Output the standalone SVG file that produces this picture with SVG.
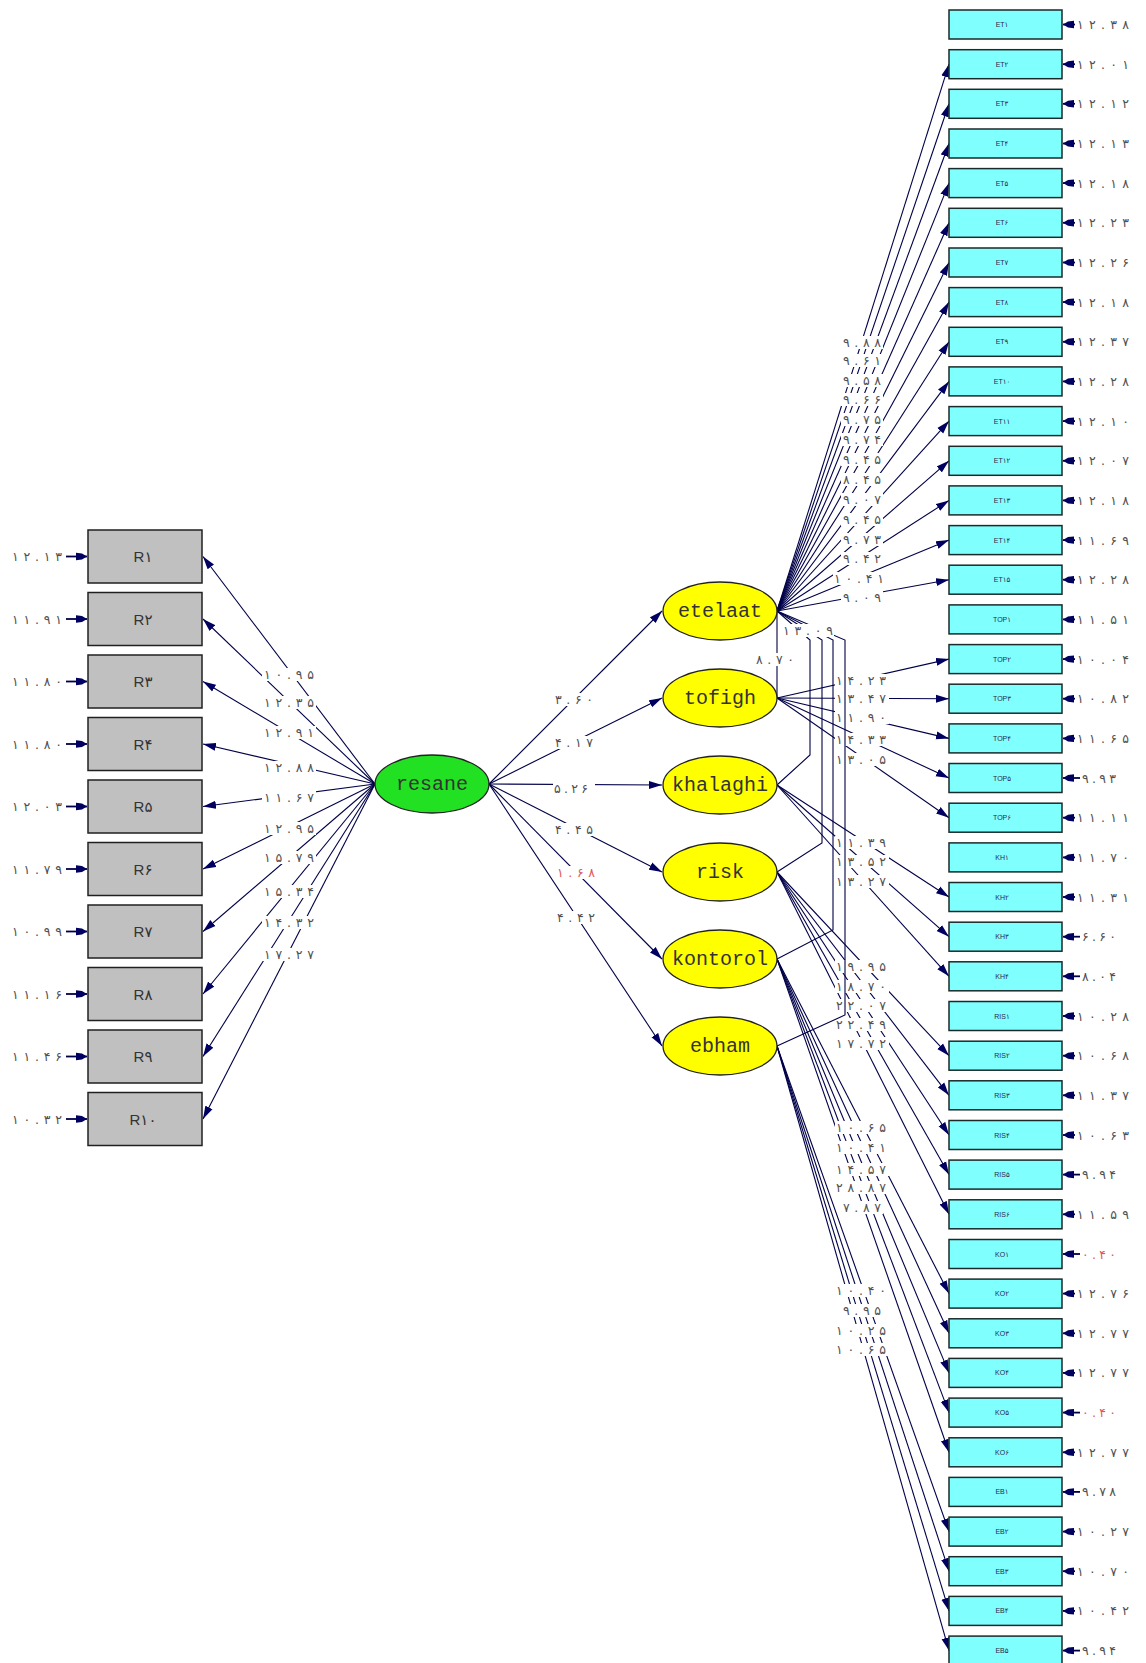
<svg xmlns="http://www.w3.org/2000/svg" width="1146" height="1663" viewBox="0 0 1146 1663">
<defs>
<marker id="ah" markerWidth="14" markerHeight="9" refX="13" refY="4.5" orient="auto" markerUnits="userSpaceOnUse"><path d="M0,0.5 L13,4.5 L0,8.5 z" fill="#000060"/></marker>
<marker id="eh" markerWidth="12" markerHeight="9" refX="11" refY="4.5" orient="auto" markerUnits="userSpaceOnUse"><path d="M0,0.8 L6,1.5 L11,4.5 L6,7.5 L0,8.2 z" fill="#000060"/></marker>
<style>
.con{stroke:#000048;stroke-width:1.1;fill:none}
.arr{marker-end:url(#ah)}
.err{marker-end:url(#eh);stroke-width:1.8}
.num{font-family:"DejaVu Sans",sans-serif;font-size:12.5px;fill:#505050}
.c{text-anchor:middle}
.e{text-anchor:end}
.red{fill:#e05858}
.bg{fill:#ffffff}
.rbox{fill:#c0c0c0;stroke:#202020;stroke-width:1.5}
.cbox{fill:#80ffff;stroke:#1a2a2a;stroke-width:1.5}
.blab{font-family:"Liberation Sans","DejaVu Sans",sans-serif;font-size:7px;fill:#2a2a50;text-anchor:middle}
.rlab{font-family:"Liberation Sans","DejaVu Sans",sans-serif;font-size:15px;fill:#333;text-anchor:middle}
.lat{fill:#ffff00;stroke:#222;stroke-width:1.3}
.res{fill:#22e022;stroke:#222;stroke-width:1.3}
.latt{font-family:"Liberation Mono",monospace;font-size:20px;fill:#333;text-anchor:middle}
</style>
</defs>
<rect width="1146" height="1663" fill="#ffffff"/>

<g id="connectors" class="con">
<path class="arr" d="M375 784L203 556.5"/>
<path class="arr" d="M375 784L203 619"/>
<path class="arr" d="M375 784L203 681.5"/>
<path class="arr" d="M375 784L203 744"/>
<path class="arr" d="M375 784L203 806.5"/>
<path class="arr" d="M375 784L203 869"/>
<path class="arr" d="M375 784L203 931.5"/>
<path class="arr" d="M375 784L203 994"/>
<path class="arr" d="M375 784L203 1056.5"/>
<path class="arr" d="M375 784L203 1119"/>
<path class="arr" d="M489 784L662 611"/>
<path class="arr" d="M489 784L662 698"/>
<path class="arr" d="M489 784L662 785"/>
<path class="arr" d="M489 784L662 872"/>
<path class="arr" d="M489 784L662 959"/>
<path class="arr" d="M489 784L662 1046"/>
<path class="arr" d="M777 611L949 64.2"/>
<path class="arr" d="M777 611L949 103.8"/>
<path class="arr" d="M777 611L949 143.5"/>
<path class="arr" d="M777 611L949 183.1"/>
<path class="arr" d="M777 611L949 222.8"/>
<path class="arr" d="M777 611L949 262.5"/>
<path class="arr" d="M777 611L949 302.1"/>
<path class="arr" d="M777 611L949 341.8"/>
<path class="arr" d="M777 611L949 381.4"/>
<path class="arr" d="M777 611L949 421.1"/>
<path class="arr" d="M777 611L949 460.8"/>
<path class="arr" d="M777 611L949 500.4"/>
<path class="arr" d="M777 611L949 540.1"/>
<path class="arr" d="M777 611L949 579.7"/>
<path class="arr" d="M777 698L949 659.1"/>
<path class="arr" d="M777 698L949 698.7"/>
<path class="arr" d="M777 698L949 738.4"/>
<path class="arr" d="M777 698L949 778"/>
<path class="arr" d="M777 698L949 817.7"/>
<path class="arr" d="M777 785L949 897"/>
<path class="arr" d="M777 785L949 936.7"/>
<path class="arr" d="M777 785L949 976.3"/>
<path class="arr" d="M777 872L949 1055.7"/>
<path class="arr" d="M777 872L949 1095.3"/>
<path class="arr" d="M777 872L949 1135"/>
<path class="arr" d="M777 872L949 1174.6"/>
<path class="arr" d="M777 872L949 1214.3"/>
<path class="arr" d="M777 959L949 1293.6"/>
<path class="arr" d="M777 959L949 1333.3"/>
<path class="arr" d="M777 959L949 1372.9"/>
<path class="arr" d="M777 959L949 1412.6"/>
<path class="arr" d="M777 959L949 1452.3"/>
<path class="arr" d="M777 1046L949 1531.6"/>
<path class="arr" d="M777 1046L949 1571.2"/>
<path class="arr" d="M777 1046L949 1610.9"/>
<path class="arr" d="M777 1046L949 1650.6"/>
<path class="err" d="M66 556.5H87"/>
<path class="err" d="M66 619H87"/>
<path class="err" d="M66 681.5H87"/>
<path class="err" d="M66 744H87"/>
<path class="err" d="M66 806.5H87"/>
<path class="err" d="M66 869H87"/>
<path class="err" d="M66 931.5H87"/>
<path class="err" d="M66 994H87"/>
<path class="err" d="M66 1056.5H87"/>
<path class="err" d="M66 1119H87"/>
<path class="err" d="M1075 24.5H1063"/>
<path class="err" d="M1075 64.2H1063"/>
<path class="err" d="M1075 103.8H1063"/>
<path class="err" d="M1075 143.5H1063"/>
<path class="err" d="M1075 183.1H1063"/>
<path class="err" d="M1075 222.8H1063"/>
<path class="err" d="M1075 262.5H1063"/>
<path class="err" d="M1075 302.1H1063"/>
<path class="err" d="M1075 341.8H1063"/>
<path class="err" d="M1075 381.4H1063"/>
<path class="err" d="M1075 421.1H1063"/>
<path class="err" d="M1075 460.8H1063"/>
<path class="err" d="M1075 500.4H1063"/>
<path class="err" d="M1075 540.1H1063"/>
<path class="err" d="M1075 579.7H1063"/>
<path class="err" d="M1075 619.4H1063"/>
<path class="err" d="M1075 659.1H1063"/>
<path class="err" d="M1075 698.7H1063"/>
<path class="err" d="M1075 738.4H1063"/>
<path class="err" d="M1080 778H1063"/>
<path class="err" d="M1075 817.7H1063"/>
<path class="err" d="M1075 857.4H1063"/>
<path class="err" d="M1075 897H1063"/>
<path class="err" d="M1080 936.7H1063"/>
<path class="err" d="M1080 976.3H1063"/>
<path class="err" d="M1075 1016H1063"/>
<path class="err" d="M1075 1055.7H1063"/>
<path class="err" d="M1075 1095.3H1063"/>
<path class="err" d="M1075 1135H1063"/>
<path class="err" d="M1080 1174.6H1063"/>
<path class="err" d="M1075 1214.3H1063"/>
<path class="err" d="M1080 1254H1063"/>
<path class="err" d="M1075 1293.6H1063"/>
<path class="err" d="M1075 1333.3H1063"/>
<path class="err" d="M1075 1372.9H1063"/>
<path class="err" d="M1080 1412.6H1063"/>
<path class="err" d="M1075 1452.3H1063"/>
<path class="err" d="M1080 1491.9H1063"/>
<path class="err" d="M1075 1531.6H1063"/>
<path class="err" d="M1075 1571.2H1063"/>
<path class="err" d="M1075 1610.9H1063"/>
<path class="err" d="M1080 1650.6H1063"/>
</g>

<g id="path-labels">
<g class="bg">
<rect x="262" y="668" width="54" height="13"/>
<rect x="262" y="696" width="54" height="13"/>
<rect x="262" y="726" width="54" height="13"/>
<rect x="262" y="761" width="54" height="13"/>
<rect x="262" y="791" width="54" height="13"/>
<rect x="262" y="822" width="54" height="13"/>
<rect x="262" y="851" width="54" height="13"/>
<rect x="262" y="885" width="54" height="13"/>
<rect x="262" y="916" width="54" height="13"/>
<rect x="262" y="948" width="54" height="13"/>
<rect x="553" y="693" width="42" height="13"/>
<rect x="553" y="736" width="42" height="13"/>
<rect x="553" y="782" width="42" height="13"/>
<rect x="553" y="823" width="42" height="13"/>
<rect x="553" y="866" width="42" height="13"/>
<rect x="553" y="911" width="42" height="13"/>
<rect x="841" y="336" width="42" height="13"/>
<rect x="841" y="354" width="42" height="13"/>
<rect x="841" y="374" width="42" height="13"/>
<rect x="841" y="393" width="42" height="13"/>
<rect x="841" y="413" width="42" height="13"/>
<rect x="841" y="433" width="42" height="13"/>
<rect x="841" y="453" width="42" height="13"/>
<rect x="841" y="473" width="42" height="13"/>
<rect x="841" y="493" width="42" height="13"/>
<rect x="841" y="513" width="42" height="13"/>
<rect x="841" y="533" width="42" height="13"/>
<rect x="841" y="552" width="42" height="13"/>
<rect x="833" y="572" width="54" height="13"/>
<rect x="841" y="591" width="42" height="13"/>
<rect x="835" y="674" width="54" height="13"/>
<rect x="835" y="692" width="54" height="13"/>
<rect x="835" y="711" width="54" height="13"/>
<rect x="835" y="733" width="54" height="13"/>
<rect x="835" y="753" width="54" height="13"/>
<rect x="835" y="836" width="54" height="13"/>
<rect x="835" y="855" width="54" height="13"/>
<rect x="835" y="875" width="54" height="13"/>
<rect x="835" y="960" width="54" height="13"/>
<rect x="835" y="980" width="54" height="13"/>
<rect x="835" y="999" width="54" height="13"/>
<rect x="835" y="1018" width="54" height="13"/>
<rect x="835" y="1037" width="54" height="13"/>
<rect x="835" y="1121" width="54" height="13"/>
<rect x="835" y="1141" width="54" height="13"/>
<rect x="835" y="1163" width="54" height="13"/>
<rect x="835" y="1181" width="54" height="13"/>
<rect x="841" y="1201" width="42" height="13"/>
<rect x="835" y="1284" width="54" height="13"/>
<rect x="841" y="1304" width="42" height="13"/>
<rect x="835" y="1324" width="54" height="13"/>
<rect x="835" y="1343" width="54" height="13"/>
</g>
<g class="num c">
<text x="289" y="679" textLength="50" lengthAdjust="spacing">۱۰.۹۵</text>
<text x="289" y="707" textLength="50" lengthAdjust="spacing">۱۲.۳۵</text>
<text x="289" y="737" textLength="50" lengthAdjust="spacing">۱۲.۹۱</text>
<text x="289" y="772" textLength="50" lengthAdjust="spacing">۱۲.۸۸</text>
<text x="289" y="802" textLength="50" lengthAdjust="spacing">۱۱.۶۷</text>
<text x="289" y="833" textLength="50" lengthAdjust="spacing">۱۲.۹۵</text>
<text x="289" y="862" textLength="50" lengthAdjust="spacing">۱۵.۷۹</text>
<text x="289" y="896" textLength="50" lengthAdjust="spacing">۱۵.۳۴</text>
<text x="289" y="927" textLength="50" lengthAdjust="spacing">۱۴.۳۲</text>
<text x="289" y="959" textLength="50" lengthAdjust="spacing">۱۷.۲۷</text>
<text x="574" y="704" textLength="38" lengthAdjust="spacing">۳.۶۰</text>
<text x="574" y="747" textLength="38" lengthAdjust="spacing">۴.۱۷</text>
<text x="571" y="793" textLength="34" lengthAdjust="spacing">۵.۲۶</text>
<text x="574" y="834" textLength="38" lengthAdjust="spacing">۴.۴۵</text>
<text x="576" y="877" textLength="38" lengthAdjust="spacing" class="red">۱.۶۸</text>
<text x="576" y="922" textLength="38" lengthAdjust="spacing">۴.۴۲</text>
<text x="862" y="347" textLength="38" lengthAdjust="spacing">۹.۸۸</text>
<text x="862" y="365" textLength="38" lengthAdjust="spacing">۹.۶۱</text>
<text x="862" y="385" textLength="38" lengthAdjust="spacing">۹.۵۸</text>
<text x="862" y="404" textLength="38" lengthAdjust="spacing">۹.۶۶</text>
<text x="862" y="424" textLength="38" lengthAdjust="spacing">۹.۷۵</text>
<text x="862" y="444" textLength="38" lengthAdjust="spacing">۹.۷۴</text>
<text x="862" y="464" textLength="38" lengthAdjust="spacing">۹.۴۵</text>
<text x="862" y="484" textLength="38" lengthAdjust="spacing">۸.۴۵</text>
<text x="862" y="504" textLength="38" lengthAdjust="spacing">۹.۰۷</text>
<text x="862" y="524" textLength="38" lengthAdjust="spacing">۹.۴۵</text>
<text x="862" y="544" textLength="38" lengthAdjust="spacing">۹.۷۳</text>
<text x="862" y="563" textLength="38" lengthAdjust="spacing">۹.۴۲</text>
<text x="859" y="583" textLength="50" lengthAdjust="spacing">۱۰.۴۱</text>
<text x="862" y="602" textLength="38" lengthAdjust="spacing">۹.۰۹</text>
<text x="861" y="685" textLength="50" lengthAdjust="spacing">۱۴.۲۳</text>
<text x="861" y="703" textLength="50" lengthAdjust="spacing">۱۳.۴۷</text>
<text x="861" y="722" textLength="50" lengthAdjust="spacing">۱۱.۹۰</text>
<text x="861" y="744" textLength="50" lengthAdjust="spacing">۱۴.۳۳</text>
<text x="861" y="764" textLength="50" lengthAdjust="spacing">۱۳.۰۵</text>
<text x="861" y="847" textLength="50" lengthAdjust="spacing">۱۱.۳۹</text>
<text x="861" y="866" textLength="50" lengthAdjust="spacing">۱۳.۵۲</text>
<text x="861" y="886" textLength="50" lengthAdjust="spacing">۱۳.۲۷</text>
<text x="861" y="971" textLength="50" lengthAdjust="spacing">۱۹.۹۵</text>
<text x="861" y="991" textLength="50" lengthAdjust="spacing">۱۸.۷۰</text>
<text x="861" y="1010" textLength="50" lengthAdjust="spacing">۲۲.۰۷</text>
<text x="861" y="1029" textLength="50" lengthAdjust="spacing">۲۲.۴۹</text>
<text x="861" y="1048" textLength="50" lengthAdjust="spacing">۱۷.۷۲</text>
<text x="861" y="1132" textLength="50" lengthAdjust="spacing">۱۰.۶۵</text>
<text x="861" y="1152" textLength="50" lengthAdjust="spacing">۱۰.۴۱</text>
<text x="861" y="1174" textLength="50" lengthAdjust="spacing">۱۴.۵۷</text>
<text x="861" y="1192" textLength="50" lengthAdjust="spacing">۲۸.۸۷</text>
<text x="862" y="1212" textLength="38" lengthAdjust="spacing">۷.۸۷</text>
<text x="861" y="1295" textLength="50" lengthAdjust="spacing">۱۰.۴۰</text>
<text x="862" y="1315" textLength="38" lengthAdjust="spacing">۹.۹۵</text>
<text x="861" y="1335" textLength="50" lengthAdjust="spacing">۱۰.۲۵</text>
<text x="861" y="1354" textLength="50" lengthAdjust="spacing">۱۰.۶۵</text>
</g>
</g>

<g id="covariance-connectors" class="con">
<path d="M777 611V698"/>
<path d="M777 611L810 640V755L777 785"/>
<path d="M777 611L822 640V843L777 872"/>
<path d="M777 611L833 640V930L777 959"/>
<path d="M777 611L845 640V1015L777 1046"/>
</g>
<g id="covariance-labels">
<rect class="bg" x="782" y="624" width="52" height="13"/>
<rect class="bg" x="754" y="653" width="42" height="13"/>
<text class="num c" x="808" y="635" textLength="50" lengthAdjust="spacing">۱۳.۰۹</text>
<text class="num c" x="775" y="664" textLength="38" lengthAdjust="spacing">۸.۷۰</text>
</g>

<g id="error-labels" class="num">
<g class="e">
<text x="62" y="561" textLength="50" lengthAdjust="spacing">۱۲.۱۳</text>
<text x="62" y="623.5" textLength="50" lengthAdjust="spacing">۱۱.۹۱</text>
<text x="62" y="686" textLength="50" lengthAdjust="spacing">۱۱.۸۰</text>
<text x="62" y="748.5" textLength="50" lengthAdjust="spacing">۱۱.۸۰</text>
<text x="62" y="811" textLength="50" lengthAdjust="spacing">۱۲.۰۳</text>
<text x="62" y="873.5" textLength="50" lengthAdjust="spacing">۱۱.۷۹</text>
<text x="62" y="936" textLength="50" lengthAdjust="spacing">۱۰.۹۹</text>
<text x="62" y="998.5" textLength="50" lengthAdjust="spacing">۱۱.۱۶</text>
<text x="62" y="1061" textLength="50" lengthAdjust="spacing">۱۱.۴۶</text>
<text x="62" y="1123.5" textLength="50" lengthAdjust="spacing">۱۰.۳۲</text>
</g>
<text x="1077" y="29" textLength="52" lengthAdjust="spacing">۱۲.۳۸</text>
<text x="1077" y="68.7" textLength="52" lengthAdjust="spacing">۱۲.۰۱</text>
<text x="1077" y="108.3" textLength="52" lengthAdjust="spacing">۱۲.۱۲</text>
<text x="1077" y="148" textLength="52" lengthAdjust="spacing">۱۲.۱۳</text>
<text x="1077" y="187.6" textLength="52" lengthAdjust="spacing">۱۲.۱۸</text>
<text x="1077" y="227.3" textLength="52" lengthAdjust="spacing">۱۲.۲۳</text>
<text x="1077" y="267" textLength="52" lengthAdjust="spacing">۱۲.۲۶</text>
<text x="1077" y="306.6" textLength="52" lengthAdjust="spacing">۱۲.۱۸</text>
<text x="1077" y="346.3" textLength="52" lengthAdjust="spacing">۱۲.۳۷</text>
<text x="1077" y="385.9" textLength="52" lengthAdjust="spacing">۱۲.۲۸</text>
<text x="1077" y="425.6" textLength="52" lengthAdjust="spacing">۱۲.۱۰</text>
<text x="1077" y="465.3" textLength="52" lengthAdjust="spacing">۱۲.۰۷</text>
<text x="1077" y="504.9" textLength="52" lengthAdjust="spacing">۱۲.۱۸</text>
<text x="1077" y="544.6" textLength="52" lengthAdjust="spacing">۱۱.۶۹</text>
<text x="1077" y="584.2" textLength="52" lengthAdjust="spacing">۱۲.۲۸</text>
<text x="1077" y="623.9" textLength="52" lengthAdjust="spacing">۱۱.۵۱</text>
<text x="1077" y="663.6" textLength="52" lengthAdjust="spacing">۱۰.۰۴</text>
<text x="1077" y="703.2" textLength="52" lengthAdjust="spacing">۱۰.۸۲</text>
<text x="1077" y="742.9" textLength="52" lengthAdjust="spacing">۱۱.۶۵</text>
<text x="1082" y="782.5" textLength="34" lengthAdjust="spacing">۹.۹۳</text>
<text x="1077" y="822.2" textLength="52" lengthAdjust="spacing">۱۱.۱۱</text>
<text x="1077" y="861.9" textLength="52" lengthAdjust="spacing">۱۱.۷۰</text>
<text x="1077" y="901.5" textLength="52" lengthAdjust="spacing">۱۱.۳۱</text>
<text x="1082" y="941.2" textLength="34" lengthAdjust="spacing">۶.۶۰</text>
<text x="1082" y="980.8" textLength="34" lengthAdjust="spacing">۸.۰۴</text>
<text x="1077" y="1020.5" textLength="52" lengthAdjust="spacing">۱۰.۲۸</text>
<text x="1077" y="1060.2" textLength="52" lengthAdjust="spacing">۱۰.۶۸</text>
<text x="1077" y="1099.8" textLength="52" lengthAdjust="spacing">۱۱.۳۷</text>
<text x="1077" y="1139.5" textLength="52" lengthAdjust="spacing">۱۰.۶۳</text>
<text x="1082" y="1179.1" textLength="34" lengthAdjust="spacing">۹.۹۴</text>
<text x="1077" y="1218.8" textLength="52" lengthAdjust="spacing">۱۱.۵۹</text>
<text x="1082" y="1258.5" textLength="34" lengthAdjust="spacing" class="red">۰.۴۰</text>
<text x="1077" y="1298.1" textLength="52" lengthAdjust="spacing">۱۲.۷۶</text>
<text x="1077" y="1337.8" textLength="52" lengthAdjust="spacing">۱۲.۷۷</text>
<text x="1077" y="1377.4" textLength="52" lengthAdjust="spacing">۱۲.۷۷</text>
<text x="1082" y="1417.1" textLength="34" lengthAdjust="spacing" class="red">۰.۴۰</text>
<text x="1077" y="1456.8" textLength="52" lengthAdjust="spacing">۱۲.۷۷</text>
<text x="1082" y="1496.4" textLength="34" lengthAdjust="spacing">۹.۷۸</text>
<text x="1077" y="1536.1" textLength="52" lengthAdjust="spacing">۱۰.۲۷</text>
<text x="1077" y="1575.7" textLength="52" lengthAdjust="spacing">۱۰.۷۰</text>
<text x="1077" y="1615.4" textLength="52" lengthAdjust="spacing">۱۰.۴۲</text>
<text x="1082" y="1655.1" textLength="34" lengthAdjust="spacing">۹.۹۴</text>
</g>

<g id="R1"><rect class="rbox" x="88" y="530" width="114" height="53"/><text class="rlab" x="143" y="562">R۱</text></g>
<g id="R2"><rect class="rbox" x="88" y="592.5" width="114" height="53"/><text class="rlab" x="143" y="624.5">R۲</text></g>
<g id="R3"><rect class="rbox" x="88" y="655" width="114" height="53"/><text class="rlab" x="143" y="687">R۳</text></g>
<g id="R4"><rect class="rbox" x="88" y="717.5" width="114" height="53"/><text class="rlab" x="143" y="749.5">R۴</text></g>
<g id="R5"><rect class="rbox" x="88" y="780" width="114" height="53"/><text class="rlab" x="143" y="812">R۵</text></g>
<g id="R6"><rect class="rbox" x="88" y="842.5" width="114" height="53"/><text class="rlab" x="143" y="874.5">R۶</text></g>
<g id="R7"><rect class="rbox" x="88" y="905" width="114" height="53"/><text class="rlab" x="143" y="937">R۷</text></g>
<g id="R8"><rect class="rbox" x="88" y="967.5" width="114" height="53"/><text class="rlab" x="143" y="999.5">R۸</text></g>
<g id="R9"><rect class="rbox" x="88" y="1030" width="114" height="53"/><text class="rlab" x="143" y="1062">R۹</text></g>
<g id="R10"><rect class="rbox" x="88" y="1092.5" width="114" height="53"/><text class="rlab" x="143" y="1124.5">R۱۰</text></g>

<g id="resane"><ellipse class="res" cx="432" cy="784" rx="57" ry="29"/><text class="latt" x="432" y="790">resane</text></g>
<g id="etelaat"><ellipse class="lat" cx="720" cy="611" rx="57" ry="29"/><text class="latt" x="720" y="617">etelaat</text></g>
<g id="tofigh"><ellipse class="lat" cx="720" cy="698" rx="57" ry="29"/><text class="latt" x="720" y="704">tofigh</text></g>
<g id="khalaghi"><ellipse class="lat" cx="720" cy="785" rx="57" ry="29"/><text class="latt" x="720" y="791">khalaghi</text></g>
<g id="risk"><ellipse class="lat" cx="720" cy="872" rx="57" ry="29"/><text class="latt" x="720" y="878">risk</text></g>
<g id="kontorol"><ellipse class="lat" cx="720" cy="959" rx="57" ry="29"/><text class="latt" x="720" y="965">kontorol</text></g>
<g id="ebham"><ellipse class="lat" cx="720" cy="1046" rx="57" ry="29"/><text class="latt" x="720" y="1052">ebham</text></g>

<g id="ET1"><rect class="cbox" x="949" y="10" width="113" height="29"/><text class="blab" x="1002" y="27">ET۱</text></g>
<g id="ET2"><rect class="cbox" x="949" y="49.7" width="113" height="29"/><text class="blab" x="1002" y="66.7">ET۲</text></g>
<g id="ET3"><rect class="cbox" x="949" y="89.3" width="113" height="29"/><text class="blab" x="1002" y="106.3">ET۳</text></g>
<g id="ET4"><rect class="cbox" x="949" y="129" width="113" height="29"/><text class="blab" x="1002" y="146">ET۴</text></g>
<g id="ET5"><rect class="cbox" x="949" y="168.6" width="113" height="29"/><text class="blab" x="1002" y="185.6">ET۵</text></g>
<g id="ET6"><rect class="cbox" x="949" y="208.3" width="113" height="29"/><text class="blab" x="1002" y="225.3">ET۶</text></g>
<g id="ET7"><rect class="cbox" x="949" y="248" width="113" height="29"/><text class="blab" x="1002" y="265">ET۷</text></g>
<g id="ET8"><rect class="cbox" x="949" y="287.6" width="113" height="29"/><text class="blab" x="1002" y="304.6">ET۸</text></g>
<g id="ET9"><rect class="cbox" x="949" y="327.3" width="113" height="29"/><text class="blab" x="1002" y="344.3">ET۹</text></g>
<g id="ET10"><rect class="cbox" x="949" y="366.9" width="113" height="29"/><text class="blab" x="1002" y="383.9">ET۱۰</text></g>
<g id="ET11"><rect class="cbox" x="949" y="406.6" width="113" height="29"/><text class="blab" x="1002" y="423.6">ET۱۱</text></g>
<g id="ET12"><rect class="cbox" x="949" y="446.3" width="113" height="29"/><text class="blab" x="1002" y="463.3">ET۱۲</text></g>
<g id="ET13"><rect class="cbox" x="949" y="485.9" width="113" height="29"/><text class="blab" x="1002" y="502.9">ET۱۳</text></g>
<g id="ET14"><rect class="cbox" x="949" y="525.6" width="113" height="29"/><text class="blab" x="1002" y="542.6">ET۱۴</text></g>
<g id="ET15"><rect class="cbox" x="949" y="565.2" width="113" height="29"/><text class="blab" x="1002" y="582.2">ET۱۵</text></g>
<g id="TOP1"><rect class="cbox" x="949" y="604.9" width="113" height="29"/><text class="blab" x="1002" y="621.9">TOP۱</text></g>
<g id="TOP2"><rect class="cbox" x="949" y="644.6" width="113" height="29"/><text class="blab" x="1002" y="661.6">TOP۲</text></g>
<g id="TOP3"><rect class="cbox" x="949" y="684.2" width="113" height="29"/><text class="blab" x="1002" y="701.2">TOP۳</text></g>
<g id="TOP4"><rect class="cbox" x="949" y="723.9" width="113" height="29"/><text class="blab" x="1002" y="740.9">TOP۴</text></g>
<g id="TOP5"><rect class="cbox" x="949" y="763.5" width="113" height="29"/><text class="blab" x="1002" y="780.5">TOP۵</text></g>
<g id="TOP6"><rect class="cbox" x="949" y="803.2" width="113" height="29"/><text class="blab" x="1002" y="820.2">TOP۶</text></g>
<g id="KH1"><rect class="cbox" x="949" y="842.9" width="113" height="29"/><text class="blab" x="1002" y="859.9">KH۱</text></g>
<g id="KH2"><rect class="cbox" x="949" y="882.5" width="113" height="29"/><text class="blab" x="1002" y="899.5">KH۲</text></g>
<g id="KH3"><rect class="cbox" x="949" y="922.2" width="113" height="29"/><text class="blab" x="1002" y="939.2">KH۳</text></g>
<g id="KH4"><rect class="cbox" x="949" y="961.8" width="113" height="29"/><text class="blab" x="1002" y="978.8">KH۴</text></g>
<g id="RIS1"><rect class="cbox" x="949" y="1001.5" width="113" height="29"/><text class="blab" x="1002" y="1018.5">RIS۱</text></g>
<g id="RIS2"><rect class="cbox" x="949" y="1041.2" width="113" height="29"/><text class="blab" x="1002" y="1058.2">RIS۲</text></g>
<g id="RIS3"><rect class="cbox" x="949" y="1080.8" width="113" height="29"/><text class="blab" x="1002" y="1097.8">RIS۳</text></g>
<g id="RIS4"><rect class="cbox" x="949" y="1120.5" width="113" height="29"/><text class="blab" x="1002" y="1137.5">RIS۴</text></g>
<g id="RIS5"><rect class="cbox" x="949" y="1160.1" width="113" height="29"/><text class="blab" x="1002" y="1177.1">RIS۵</text></g>
<g id="RIS6"><rect class="cbox" x="949" y="1199.8" width="113" height="29"/><text class="blab" x="1002" y="1216.8">RIS۶</text></g>
<g id="KO1"><rect class="cbox" x="949" y="1239.5" width="113" height="29"/><text class="blab" x="1002" y="1256.5">KO۱</text></g>
<g id="KO2"><rect class="cbox" x="949" y="1279.1" width="113" height="29"/><text class="blab" x="1002" y="1296.1">KO۲</text></g>
<g id="KO3"><rect class="cbox" x="949" y="1318.8" width="113" height="29"/><text class="blab" x="1002" y="1335.8">KO۳</text></g>
<g id="KO4"><rect class="cbox" x="949" y="1358.4" width="113" height="29"/><text class="blab" x="1002" y="1375.4">KO۴</text></g>
<g id="KO5"><rect class="cbox" x="949" y="1398.1" width="113" height="29"/><text class="blab" x="1002" y="1415.1">KO۵</text></g>
<g id="KO6"><rect class="cbox" x="949" y="1437.8" width="113" height="29"/><text class="blab" x="1002" y="1454.8">KO۶</text></g>
<g id="EB1"><rect class="cbox" x="949" y="1477.4" width="113" height="29"/><text class="blab" x="1002" y="1494.4">EB۱</text></g>
<g id="EB2"><rect class="cbox" x="949" y="1517.1" width="113" height="29"/><text class="blab" x="1002" y="1534.1">EB۲</text></g>
<g id="EB3"><rect class="cbox" x="949" y="1556.7" width="113" height="29"/><text class="blab" x="1002" y="1573.7">EB۳</text></g>
<g id="EB4"><rect class="cbox" x="949" y="1596.4" width="113" height="29"/><text class="blab" x="1002" y="1613.4">EB۴</text></g>
<g id="EB5"><rect class="cbox" x="949" y="1636.1" width="113" height="29"/><text class="blab" x="1002" y="1653.1">EB۵</text></g>
</svg>
